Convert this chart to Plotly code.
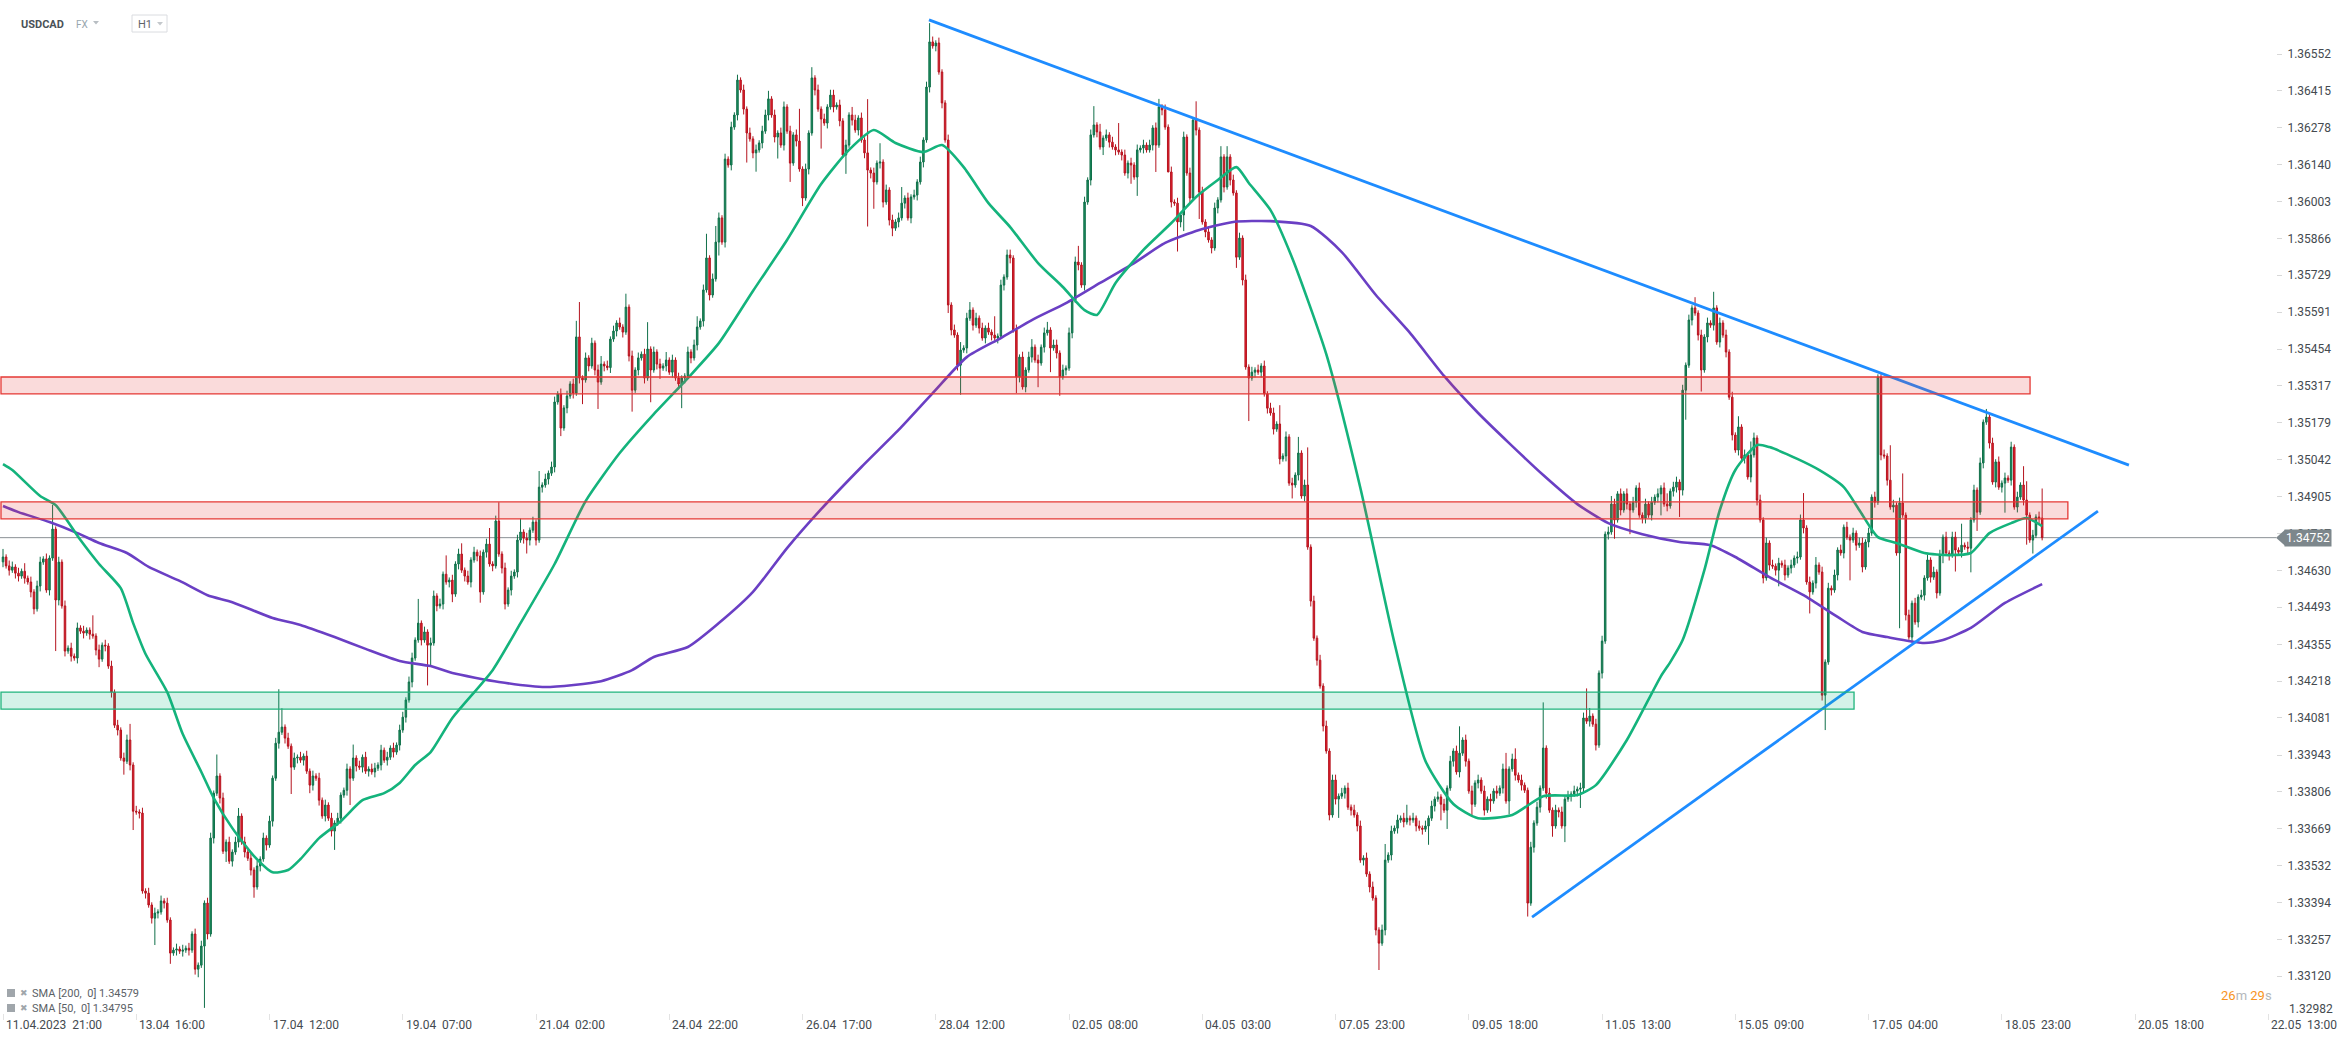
import plotly.graph_objects as go

# ---------------- DATA ----------------
first_open = 1.34662
closes = [
    1.34680, 1.34647, 1.34631, 1.34643, 1.34620, 1.34609, 1.34627, 1.34601, 1.34587, 1.34550,
    1.34487, 1.34572, 1.34661, 1.34673, 1.34557, 1.34676, 1.34784, 1.34520, 1.34661, 1.34498,
    1.34330, 1.34341, 1.34311, 1.34304, 1.34416, 1.34404, 1.34397, 1.34408, 1.34393, 1.34386,
    1.34334, 1.34300, 1.34352, 1.34349, 1.34274, 1.34177, 1.34054, 1.34036, 1.33932, 1.33920,
    1.33999, 1.33906, 1.33734, 1.33731, 1.33727, 1.33437, 1.33429, 1.33385, 1.33336, 1.33355,
    1.33359, 1.33400, 1.33392, 1.33329, 1.33206, 1.33217, 1.33221, 1.33213, 1.33217, 1.33224,
    1.33217, 1.33277, 1.33146, 1.33161, 1.33232, 1.33392, 1.33277, 1.33634, 1.33801, 1.33865,
    1.33783, 1.33585, 1.33619, 1.33548, 1.33582, 1.33619, 1.33716, 1.33619, 1.33582, 1.33559,
    1.33515, 1.33452, 1.33530, 1.33556, 1.33634, 1.33608, 1.33697, 1.33857, 1.33987, 1.34028,
    1.34047, 1.34006, 1.33976, 1.33898, 1.33932, 1.33935, 1.33924, 1.33939, 1.33883, 1.33831,
    1.33865, 1.33857, 1.33775, 1.33716, 1.33757, 1.33708, 1.33660, 1.33690, 1.33708, 1.33794,
    1.33812, 1.33891, 1.33857, 1.33932, 1.33902, 1.33898, 1.33935, 1.33883, 1.33891, 1.33880,
    1.33894, 1.33906, 1.33961, 1.33924, 1.33935, 1.33969, 1.33954, 1.33980, 1.34036, 1.34084,
    1.34148, 1.34215, 1.34304, 1.34371, 1.34434, 1.34371, 1.34401, 1.34352, 1.34360, 1.34535,
    1.34498, 1.34505, 1.34616, 1.34587, 1.34594, 1.34542, 1.34654, 1.34691, 1.34631, 1.34609,
    1.34587, 1.34669, 1.34698, 1.34684, 1.34550, 1.34698, 1.34728, 1.34654, 1.34647, 1.34814,
    1.34691, 1.34639, 1.34505, 1.34557, 1.34609, 1.34624, 1.34743, 1.34773, 1.34750, 1.34743,
    1.34780, 1.34810, 1.34743, 1.34940, 1.34948, 1.34970, 1.34992, 1.35015, 1.35257, 1.35287,
    1.35160, 1.35235, 1.35279, 1.35324, 1.35290, 1.35499, 1.35346, 1.35339, 1.35421, 1.35391,
    1.35476, 1.35376, 1.35331, 1.35398, 1.35391, 1.35385, 1.35491, 1.35521, 1.35551, 1.35536,
    1.35517, 1.35610, 1.35428, 1.35301, 1.35376, 1.35421, 1.35435, 1.35346, 1.35454, 1.35376,
    1.35443, 1.35398, 1.35383, 1.35391, 1.35413, 1.35368, 1.35413, 1.35346, 1.35324, 1.35346,
    1.35354, 1.35443, 1.35421, 1.35469, 1.35536, 1.35558, 1.35674, 1.35793, 1.35655, 1.35715,
    1.35852, 1.35942, 1.35852, 1.36161, 1.36139, 1.36280, 1.36325, 1.36455, 1.36418, 1.36347,
    1.36258, 1.36236, 1.36184, 1.36195, 1.36221, 1.36265, 1.36325, 1.36385, 1.36325, 1.36243,
    1.36258, 1.36213, 1.36355, 1.36265, 1.36146, 1.36251, 1.36228, 1.36124, 1.36016, 1.36124,
    1.36258, 1.36463, 1.36418, 1.36347, 1.36310, 1.36295, 1.36355, 1.36399, 1.36355, 1.36362,
    1.36303, 1.36176, 1.36213, 1.36325, 1.36306, 1.36269, 1.36314, 1.36232, 1.36184, 1.36120,
    1.36109, 1.36076, 1.36146, 1.36150, 1.36001, 1.36046, 1.35934, 1.35904, 1.35927, 1.35942,
    1.35997, 1.36016, 1.35942, 1.36020, 1.36027, 1.36076, 1.36150, 1.36232, 1.36429, 1.36597,
    1.36582, 1.36593, 1.36485, 1.36370, 1.36232, 1.35618, 1.35525, 1.35506, 1.35394, 1.35450,
    1.35458, 1.35569, 1.35599, 1.35543, 1.35569, 1.35532, 1.35495, 1.35532, 1.35517, 1.35506,
    1.35495, 1.35502, 1.35692, 1.35722, 1.35804, 1.35793, 1.35525, 1.35350, 1.35424, 1.35313,
    1.35376, 1.35424, 1.35461, 1.35413, 1.35402, 1.35461, 1.35514, 1.35525, 1.35458, 1.35469,
    1.35439, 1.35350, 1.35376, 1.35383, 1.35514, 1.35636, 1.35778, 1.35767, 1.35692, 1.36001,
    1.36083, 1.36251, 1.36288, 1.36262, 1.36206, 1.36239, 1.36251, 1.36224, 1.36206, 1.36195,
    1.36187, 1.36176, 1.36109, 1.36146, 1.36139, 1.36094, 1.36195, 1.36202, 1.36213, 1.36195,
    1.36213, 1.36277, 1.36213, 1.36355, 1.36344, 1.36280, 1.36113, 1.36001, 1.35997, 1.35927,
    1.35953, 1.36243, 1.36109, 1.36016, 1.36306, 1.36269, 1.36038, 1.35927, 1.35890, 1.35860,
    1.35830, 1.35979, 1.36009, 1.36169, 1.36057, 1.36169, 1.36083, 1.36035, 1.35796, 1.35867,
    1.35711, 1.35387, 1.35346, 1.35368, 1.35376, 1.35368, 1.35391, 1.35287, 1.35234, 1.35216,
    1.35156, 1.35175, 1.35045, 1.35056, 1.35127, 1.34955, 1.34948, 1.34985, 1.35067, 1.34907,
    1.34948, 1.34717, 1.34516, 1.34378, 1.34296, 1.34200, 1.34051, 1.33958, 1.33720, 1.33850,
    1.33779, 1.33790, 1.33801, 1.33820, 1.33749, 1.33738, 1.33720, 1.33679, 1.33552, 1.33560,
    1.33500, 1.33452, 1.33411, 1.33292, 1.33243, 1.33292, 1.33552, 1.33571, 1.33660, 1.33671,
    1.33701, 1.33708, 1.33694, 1.33708, 1.33701, 1.33708, 1.33679, 1.33671, 1.33667, 1.33679,
    1.33708, 1.33753, 1.33779, 1.33787, 1.33760, 1.33738, 1.33820, 1.33920, 1.33958, 1.33880,
    1.33950, 1.33999, 1.33920, 1.33809, 1.33760, 1.33839, 1.33850, 1.33809, 1.33738, 1.33779,
    1.33772, 1.33809, 1.33801, 1.33820, 1.33891, 1.33772, 1.33891, 1.33928, 1.33868, 1.33850,
    1.33831, 1.33812, 1.33392, 1.33600, 1.33690, 1.33749, 1.33820, 1.33969, 1.33801, 1.33738,
    1.33679, 1.33738, 1.33731, 1.33679, 1.33779, 1.33790, 1.33798, 1.33809, 1.33816, 1.33820,
    1.34081, 1.34069, 1.34088, 1.34058, 1.33980, 1.34248, 1.34367, 1.34765, 1.34773, 1.34877,
    1.34818, 1.34915, 1.34855, 1.34915, 1.34877, 1.34855, 1.34884, 1.34937, 1.34836, 1.34825,
    1.34877, 1.34836, 1.34884, 1.34903, 1.34915, 1.34937, 1.34877, 1.34870, 1.34925, 1.34940,
    1.34959, 1.34929, 1.35301, 1.35394, 1.35562, 1.35607, 1.35588, 1.35506, 1.35376, 1.35499,
    1.35551, 1.35543, 1.35607, 1.35480, 1.35551, 1.35506, 1.35443, 1.35275, 1.35134, 1.35078,
    1.35164, 1.35048, 1.35060, 1.34978, 1.35060, 1.35123, 1.34892, 1.34818, 1.34602, 1.34732,
    1.34650, 1.34646, 1.34631, 1.34657, 1.34650, 1.34613, 1.34639, 1.34650, 1.34676, 1.34680,
    1.34818, 1.34788, 1.34587, 1.34550, 1.34583, 1.34650, 1.34624, 1.34166, 1.34289, 1.34564,
    1.34557, 1.34613, 1.34706, 1.34695, 1.34791, 1.34754, 1.34743, 1.34769, 1.34724, 1.34732,
    1.34643, 1.34736, 1.34769, 1.34903, 1.34884, 1.35350, 1.35060, 1.35056, 1.34966, 1.34866,
    1.34873, 1.34695, 1.34881, 1.34836, 1.34464, 1.34382, 1.34508, 1.34438, 1.34531, 1.34538,
    1.34602, 1.34669, 1.34605, 1.34624, 1.34546, 1.34687, 1.34754, 1.34695, 1.34687, 1.34754,
    1.34706, 1.34698, 1.34724, 1.34717, 1.34713, 1.34818, 1.34929, 1.34847, 1.35030, 1.35182,
    1.35201, 1.35104, 1.34959, 1.35034, 1.34940, 1.34955, 1.34974, 1.34966, 1.35089, 1.34866,
    1.34903, 1.34948, 1.34892, 1.34836, 1.34743, 1.34761, 1.34829, 1.34825, 1.34752,
]
# wick lengths beyond the candle body, in pips (0.0001)
upper_wick_pips = [
    3,1,2,2,1,2,1,3,1,2, 1,2,2,1,2,1,9,1,2,1, 2,1,2,1,2,1,2,1,1,7, 1,2,1,2,1,2,1,2,1,2,
    2,6,1,2,1,2,1,2,1,2, 1,2,1,2,1,1,2,1,2,1, 2,1,2,1,2,1,2,2,1,8, 1,2,1,2,1,2,3,1,2,1,
    2,1,2,1,2,1,2,1,2,16, 7,1,2,1,2,1,2,1,2,1, 2,1,2,1,2,1,2,1,2,1, 1,2,1,5,1,2,1,2,1,2,
    2,1,2,1,2,1,2,1,2,2, 1,2,2,1,9,1,2,1,2,2, 1,2,1,7,1,2,1,2,4,1, 2,1,2,1,2,1,2,6,1,2,
    7,1,2,1,2,1,2,5,1,2, 1,2,1,6,1,2,1,2,2,1, 2,1,2,1,2,6,13,1,2,1, 2,1,2,3,1,2,1,2,1,2,
    1,5,1,2,1,2,1,2,10,1, 2,1,2,1,3,1,2,1,2,1, 1,2,1,2,4,1,2,9,1,2, 6,2,1,2,1,2,1,2,1,2,
    1,2,1,2,1,2,2,3,1,2, 1,2,2,1,2,1,2,12,1,2, 1,4,1,2,1,2,1,2,2,1, 2,1,2,1,3,2,1,2,1,20,
    1,2,1,7,1,2,1,2,1,2, 6,1,2,1,2,1,2,1,2,7, 2,1,2,1,1,2,1,2,1,3, 1,2,3,1,2,1,2,1,2,1,
    7,1,2,1,2,2,1,2,1,2, 1,2,3,1,2,1,2,3,1,2, 2,1,2,1,2,1,2,6,1,2, 1,2,7,1,3,1,2,1,2,1,
    10,1,2,1,2,1,2,1,2,1, 2,1,2,3,1,2,1,2,1,2, 1,2,1,2,1,7,1,2,1,2, 1,2,1,4,1,4,1,2,1,2,
    1,2,1,2,1,2,1,2,1,2, 2,1,7,1,2,1,2,1,6,1, 2,14,1,2,1,2,1,2,1,2, 2,1,2,1,2,1,2,1,2,1,
    2,1,2,1,1,2,6,1,2,1, 2,1,2,5,1,2,1,2,1,2, 1,2,1,2,1,2,1,2,1,2, 10,1,2,1,2,1,2,1,2,1,
    2,1,2,1,2,6,1,2,4,1, 2,1,1,2,1,2,1,17,1,2, 1,2,1,2,1,2,1,2,1,2, 2,11,3,1,2,1,2,1,2,3,
    2,1,2,1,2,1,2,1,2,1, 2,1,2,1,2,1,2,4,1,2, 2,1,2,1,2,1,4,1,2,1, 2,1,6,1,2,1,2,1,2,1,
    4,1,2,1,5,2,1,2,1,2, 1,2,1,2,1,2,1,2,1,2, 2,10,1,2,1,3,1,2,1,2, 1,2,1,2,1,2,1,2,1,2,
    2,1,2,1,2,1,1,2,1,13, 2,1,2,11,1,2,1,2,1,2, 1,2,1,2,1,2,1,2,1,2, 2,1,8,1,2,1,2,1,2,1,
    3,1,2,1,2,1,2,1,2,1, 2,1,7,7,1,2,1,2,11,
]
lower_wick_pips = [
    2,1,2,1,2,2,1,2,1,2, 2,1,2,1,1,2,1,19,2,1, 2,1,2,1,2,1,2,1,2,1, 2,3,1,2,1,2,1,2,1,5,
    1,2,7,1,2,1,2,1,2,10, 2,1,2,1,4,1,2,1,2,1, 2,1,2,3,1,23,2,1,2,1, 2,1,4,1,2,1,2,1,2,1,
    2,4,1,2,1,2,1,2,1,2, 1,2,1,10,1,2,1,2,1,3, 2,1,2,1,2,1,2,7,1,2, 1,2,10,1,2,1,2,1,2,1,
    2,1,2,1,2,1,2,1,2,1, 2,1,2,1,1,2,1,15,8,1, 2,1,2,1,2,3,1,2,1,2, 1,2,1,2,4,1,2,1,2,1,
    1,2,2,1,2,1,2,1,2,5, 2,1,2,1,2,1,2,1,2,1, 3,1,2,1,2,1,2,9,1,2, 1,2,10,1,2,1,2,1,2,1,
    2,1,2,8,1,2,1,2,1,12, 1,2,4,1,2,1,2,1,2,9, 2,1,2,1,2,1,2,1,2,1, 1,5,1,2,1,2,1,2,1,2,
    11,1,2,7,1,2,1,2,1,2, 8,1,2,1,7,1,2,1,3,1, 2,1,2,1,11,1,2,1,2,1, 2,1,7,1,2,1,2,1,2,21,
    2,10,1,2,2,1,2,3,1,2, 1,2,1,2,1,2,1,2,1,2, 1,2,1,2,1,3,2,1,2,11, 1,2,1,2,1,2,1,2,1,2,
    1,2,1,2,1,2,1,6,2,1, 2,1,2,1,9,1,2,1,9,1, 2,7,1,2,1,2,1,2,1,2, 1,2,1,2,1,3,1,2,1,2,
    1,2,1,2,7,1,7,1,2,1, 1,2,10,1,2,1,0,2,1,11, 2,6,1,2,1,2,10,1,2,1, 2,1,2,1,2,1,2,1,4,1,
    2,1,16,1,2,1,2,1,2,1, 2,1,2,1,2,1,5,1,2,1, 2,1,2,1,2,1,2,1,2,1, 2,7,1,2,1,2,1,2,1,2,
    1,2,1,2,10,1,2,1,2,1, 2,1,2,1,2,1,2,1,2,1, 7,1,2,1,6,1,7,1,2,1, 2,1,2,1,4,1,2,1,2,1,
    4,1,2,1,2,1,5,1,2,1, 2,1,5,1,2,1,2,1,2,1, 4,1,2,1,6,1,2,1,2,7, 2,1,2,1,2,1,2,1,2,1,
    7,1,2,1,2,9,1,2,1,2, 2,1,2,1,2,8,1,2,1,2, 2,10,2,11,1,2,1,2,8,1, 2,1,2,1,2,1,2,1,2,1,
    2,1,2,1,2,1,2,1,2,1, 2,1,2,6,1,2,1,2,1,2, 1,2,1,8,1,2,1,2,13,1, 2,1,2,1,2,1,15,1,2,1,
    2,1,2,1,2,1,2,1,2,1, 2,1,28,1,2,1,2,1,2,1, 2,1,2,1,2,1,3,1,2,1, 8,1,2,1,2,9,1,7,1,2,
    1,2,1,2,1,2,11,1,2,1, 2,1,2,11,1,5,1,2,1,
]
PIP = 0.0001

# moving averages as drawn (sampled along the curves)
sma50_idx = [0,3,12,17,25,31,38,42,46,53,58,64,68,74,81,87,92,96,102,109,116,123,128,133,138,145,158,167,178,188,
             199,210,221,231,242,253,264,273,281,288,297,303,310,318,325,334,342,349,353,359,368,377,385,392,398,402,409,416,427,438,
             449,459,468,476,487,497,508,514,524,535,538,542,549,554,559,566,570,579,586,594,599,605,611,620,628,635,641,648,653,658]
sma50_val = [1.35026,1.35004,1.34907,1.34873,1.34743,1.34654,1.34564,1.34434,1.34319,1.34177,
             1.34021,1.33880,1.33783,1.33671,1.33567,1.33507,1.33515,1.33556,1.33634,1.33697,
             1.33775,1.33801,1.33839,1.33906,1.33954,1.34081,1.34259,1.34434,1.34654,1.34888,
             1.35067,1.35212,1.35346,1.35476,1.35670,1.35860,1.36068,1.36195,1.36269,1.36221,
             1.36187,1.36213,1.36131,1.35997,1.35908,1.35774,1.35685,1.35599,1.35581,1.35700,
             1.35823,1.35923,1.36020,1.36083,1.36131,1.36072,1.35971,1.35793,1.35435,1.34937,
             1.34360,1.33921,1.33761,1.33708,1.33720,1.33790,1.33794,1.33831,1.33999,1.34237,
             1.34289,1.34371,1.34631,1.34855,1.35004,1.35097,1.35089,1.35045,1.35004,1.34940,
             1.34855,1.34754,1.34732,1.34695,1.34687,1.34695,1.34769,1.34806,1.34825,1.34795]
sma200_idx = [0,5,15,24,31,40,47,57,66,74,87,96,107,117,128,138,145,160,175,193,
              203,210,221,231,242,253,264,277,289,300,311,322,332,343,354,365,375,386,397,409,
              422,432,443,454,465,476,486,497,508,518,529,541,551,559,570,581,592,600,608,620,
              626,635,646,658]
sma200_val = [1.34870,1.34847,1.34810,1.34769,1.34732,1.34695,1.34643,1.34591,1.34538,1.34512,
              1.34453,1.34427,1.34382,1.34338,1.34293,1.34274,1.34248,1.34215,1.34196,1.34218,
              1.34259,1.34308,1.34345,1.34434,1.34550,1.34713,1.34858,1.35015,1.35153,1.35290,
              1.35424,1.35495,1.35562,1.35625,1.35700,1.35774,1.35849,1.35897,1.35927,1.35930,
              1.35912,1.35815,1.35655,1.35514,1.35354,1.35216,1.35104,1.34985,1.34877,1.34806,
              1.34765,1.34736,1.34724,1.34680,1.34605,1.34538,1.34457,1.34401,1.34382,1.34360,
              1.34371,1.34416,1.34509,1.34579]

# analyst drawings (candle index, price)
trend_upper_idx = [298.8, 686.0]
trend_upper_val = [1.36679, 1.35022]
trend_lower_idx = [493.4, 676.0]
trend_lower_val = [1.33340, 1.34851]
# zones: (low price, high price, last candle index covered)
zone_resistance_hi = (1.35287, 1.35350, 654.1)
zone_resistance_lo = (1.34822, 1.34885, 666.3)
zone_support = (1.34114, 1.34177, 597.3)

y_tick_labels = ["1.36552", "1.36415", "1.36278", "1.36140", "1.36003", "1.35866", "1.35729",
                 "1.35591", "1.35454", "1.35317", "1.35179", "1.35042", "1.34905", "1.34767",
                 "1.34630", "1.34493", "1.34355", "1.34218", "1.34081", "1.33943", "1.33806",
                 "1.33669", "1.33532", "1.33394", "1.33257", "1.33120"]
y_bottom_label = "1.32982"
x_tick_labels = ["11.04.2023  21:00", "13.04  16:00", "17.04  12:00", "19.04  07:00", "21.04  02:00",
                 "24.04  22:00", "26.04  17:00", "28.04  12:00", "02.05  08:00", "04.05  03:00",
                 "07.05  23:00", "09.05  18:00", "11.05  13:00", "15.05  09:00", "17.05  04:00",
                 "18.05  23:00", "20.05  18:00", "22.05  13:00"]
x_tick_step = 43  # hourly candles between time labels

# ---------------- BUILD ----------------
n = len(closes)
if len(upper_wick_pips) != n or len(lower_wick_pips) != n:
    raise ValueError(f"length mismatch {n} {len(upper_wick_pips)} {len(lower_wick_pips)}")
opens = [first_open] + closes[:-1]
highs = [max(o, c) + u * PIP for o, c, u in zip(opens, closes, upper_wick_pips)]
lows = [min(o, c) - d * PIP for o, c, d in zip(opens, closes, lower_wick_pips)]
idx = list(range(n))

W, H = 2346, 1039
ML, MR, MT, MB = 0, 70, 0, 26
PW, PH = W - ML - MR, H - MT - MB
FONT = "Roboto"

fig = go.Figure()
fig.add_trace(go.Candlestick(
    x=idx, open=opens, high=highs, low=lows, close=closes,
    increasing=dict(line=dict(color="#10704a", width=1), fillcolor="#1d8f5f"),
    decreasing=dict(line=dict(color="#b5141f", width=1), fillcolor="#e8212f"),
    whiskerwidth=0, hoverinfo="skip", showlegend=False))

fig.add_trace(go.Scatter(x=sma200_idx, y=sma200_val, mode="lines",
                         line=dict(color="#6a3fc4", width=2.6, shape="spline", smoothing=0.6),
                         hoverinfo="skip", showlegend=False))
fig.add_trace(go.Scatter(x=sma50_idx, y=sma50_val, mode="lines",
                         line=dict(color="#14b37c", width=2.6, shape="spline", smoothing=0.6),
                         hoverinfo="skip", showlegend=False))
for tx, ty in ((trend_upper_idx, trend_upper_val), (trend_lower_idx, trend_lower_val)):
    fig.add_trace(go.Scatter(x=tx, y=ty, mode="lines", line=dict(color="#1e8cff", width=2.8),
                             hoverinfo="skip", showlegend=False))

shapes = []
last_price = closes[-1]
shapes.append(dict(type="line", xref="paper", x0=0, x1=1, yref="y", y0=last_price, y1=last_price,
                   line=dict(color="#8a9095", width=1), layer="below"))
for (lo, hi, end), fill, edge in (
        (zone_resistance_hi, "rgba(229,57,53,0.18)", "#e53935"),
        (zone_resistance_lo, "rgba(229,57,53,0.18)", "#e53935"),
        (zone_support, "rgba(0,180,120,0.17)", "#1fb47c")):
    shapes.append(dict(type="rect", xref="x", yref="y", x0=-0.65, x1=end, y0=lo, y1=hi,
                       fillcolor=fill, line=dict(color=edge, width=1.3), layer="above"))
# price tag arrow
shapes.append(dict(type="path", xref="paper", xsizemode="pixel", xanchor=1,
                   yref="y", ysizemode="pixel", yanchor=last_price,
                   path="M 0,0 L 9,8 L 9,-8 Z", fillcolor="#7d878c", line=dict(width=0), layer="above"))

def px(xp):
    return (xp - ML) / PW

def py(yp):
    return (MT + PH - yp) / PH

# header widgets
shapes.append(dict(type="rect", xref="paper", yref="paper", x0=px(132), x1=px(167), y0=py(32), y1=py(15),
                   line=dict(color="#dadce0", width=1), fillcolor="white", layer="above"))
for x0, x1, y0, y1, col in ((93, 99, 21, 24.5, "#b8bec3"), (157, 163, 22, 25.5, "#c4c8cc")):
    shapes.append(dict(type="path", xref="paper", yref="paper",
                       path=f"M {px(x0)},{py(y0)} L {px(x1)},{py(y0)} L {px((x0 + x1) / 2)},{py(y1)} Z",
                       fillcolor=col, line=dict(width=0), layer="above"))
# legend icons
for yc in (993, 1008):
    shapes.append(dict(type="rect", xref="paper", yref="paper", x0=px(7), x1=px(15), y0=py(yc + 4), y1=py(yc - 4),
                       fillcolor="#a0a6ab", line=dict(width=0), layer="above"))

annotations = []
tick_font = dict(family=FONT, size=12, color="#444a4f")
for k, lab in enumerate(x_tick_labels):
    annotations.append(dict(x=k * x_tick_step, xref="x", y=0, yref="paper", yanchor="top", xanchor="left",
                            yshift=-3, xshift=1, text=lab.replace(" ", "\u00a0"), showarrow=False, font=tick_font))
annotations.append(dict(x=1, xref="paper", xshift=8, y=last_price, yref="y", xanchor="left", yanchor="middle",
                        text=f"{last_price:.5f}", showarrow=False, bgcolor="#7d878c", borderpad=1,
                        font=dict(family=FONT, size=12, color="white")))
annotations.append(dict(x=px(2287), xref="paper", y=py(1009), yref="paper", xanchor="left", yanchor="middle",
                        text=y_bottom_label, showarrow=False, font=tick_font))
annotations.append(dict(x=px(2219), xref="paper", y=py(995), yref="paper", xanchor="left", yanchor="middle",
                        text='<span style="color:#f7941d">26</span><span style="color:#b4b8bb">m</span> '
                             '<span style="color:#f7941d">29</span><span style="color:#b4b8bb">s</span>',
                        showarrow=False, font=dict(family=FONT, size=13)))
annotations.append(dict(x=px(19), xref="paper", y=py(24), yref="paper", xanchor="left", yanchor="middle",
                        text="<b>USDCAD</b>", showarrow=False, font=dict(family=FONT, size=11, color="#4a5257")))
annotations.append(dict(x=px(74), xref="paper", y=py(24), yref="paper", xanchor="left", yanchor="middle",
                        text="FX", showarrow=False, font=dict(family=FONT, size=10, color="#98a6ae")))
annotations.append(dict(x=px(136), xref="paper", y=py(24), yref="paper", xanchor="left", yanchor="middle",
                        text="H1", showarrow=False, font=dict(family=FONT, size=11, color="#5f6368")))
legend_lines = [f"SMA [200,  0] {sma200_val[-1]:.5f}", f"SMA [50,  0] {sma50_val[-1]:.5f}"]
for yc, txt in zip((993, 1008), legend_lines):
    annotations.append(dict(x=px(18), xref="paper", y=py(yc), yref="paper", xanchor="left", yanchor="middle",
                            text="\u2716", showarrow=False, font=dict(family="DejaVu Sans", size=9, color="#a0a6ab")))
    annotations.append(dict(x=px(30), xref="paper", y=py(yc), yref="paper", xanchor="left", yanchor="middle",
                            text=txt.replace(" ", "\u00a0"), showarrow=False,
                            font=dict(family=FONT, size=11, color="#5b6166")))

fig.update_layout(
    width=W, height=H, margin=dict(l=ML, r=MR, t=MT, b=MB),
    paper_bgcolor="white", plot_bgcolor="white", showlegend=False,
    shapes=shapes, annotations=annotations, hovermode=False,
    xaxis=dict(range=[-0.968, 733.46], showgrid=False, zeroline=False, showline=False,
               tickvals=[k * x_tick_step for k in range(len(x_tick_labels))], showticklabels=False,
               ticks="outside", ticklen=6, tickcolor="#e3e3e3", rangeslider=dict(visible=False), fixedrange=True),
    yaxis=dict(range=[1.32983, 1.36753], side="right", showgrid=False, zeroline=False, showline=False,
               tickvals=[float(t) for t in y_tick_labels], ticktext=y_tick_labels,
               ticks="outside", ticklen=5, tickcolor="#d8d8d8", tickfont=tick_font,
               ticklabelstandoff=3, fixedrange=True),
)

fig.write_html("out.html", config={"displayModeBar": False},
               post_script="document.body.style.margin='0px';document.body.style.overflow='hidden';")
